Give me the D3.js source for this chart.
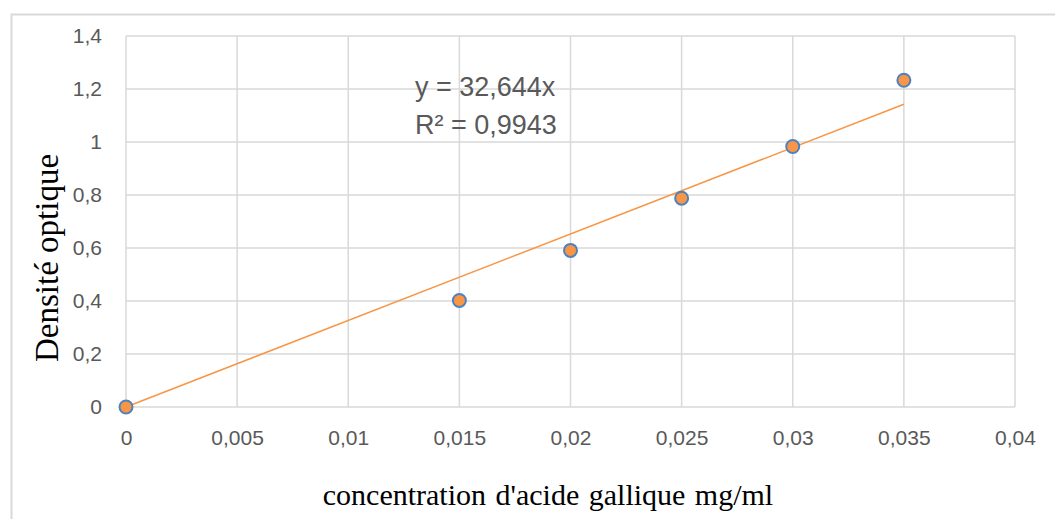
<!DOCTYPE html>
<html>
<head>
<meta charset="utf-8">
<script src="https://cdn.jsdelivr.net/npm/d3@7"></script>
<style>
  body { margin: 0; background: #fff; }
  .tick text { font-family: "Liberation Sans", Arial, sans-serif; font-size: 21px; fill: #595959; }
</style>
</head>
<body>
<div id="chart"></div>
<script>
// data
var concentrations = [0, 0.015, 0.02, 0.025, 0.03, 0.035];
var densities = [0, 0.402, 0.591, 0.788, 0.983, 1.233];
var slope = 32.644;
var r2Label = "R² = 0,9943";
var eqLabel = "y = 32,644x";
var xTicks = [0, 0.005, 0.01, 0.015, 0.02, 0.025, 0.03, 0.035, 0.04];
var yTicks = [0, 0.2, 0.4, 0.6, 0.8, 1, 1.2, 1.4];

var W = 1055, H = 519;
var margin = { left: 126, right: 40, top: 36, bottom: 112 };

var svg = d3.select("#chart").append("svg")
    .attr("width", W)
    .attr("height", H);

// outer chart frame
svg.append("rect")
    .attr("x", 11.5).attr("y", 14.5)
    .attr("width", W + 10).attr("height", H + 10)
    .attr("fill", "none")
    .attr("stroke", "#d9d9d9")
    .attr("stroke-width", 2);

var x = d3.scaleLinear().domain([0, 0.04]).range([margin.left, W - margin.right]);
var y = d3.scaleLinear().domain([0, 1.4]).range([H - margin.bottom, margin.top]);

var fmt = function(d) { return String(+d.toFixed(3)).replace(".", ","); };

// gridlines
svg.append("g")
    .selectAll("line.v").data(xTicks).enter().append("line")
    .attr("x1", function(d) { return x(d); }).attr("x2", function(d) { return x(d); })
    .attr("y1", y(0)).attr("y2", y(1.4))
    .attr("stroke", "#d9d9d9").attr("stroke-width", 1.5);
svg.append("g")
    .selectAll("line.h").data(yTicks).enter().append("line")
    .attr("x1", x(0)).attr("x2", x(0.04))
    .attr("y1", function(d) { return y(d); }).attr("y2", function(d) { return y(d); })
    .attr("stroke", "#d9d9d9").attr("stroke-width", 1.5);

// axes (labels only, Excel style)
var xAxis = svg.append("g")
    .attr("transform", "translate(0," + y(0) + ")")
    .call(d3.axisBottom(x).tickValues(xTicks).tickFormat(fmt).tickSize(0).tickPadding(23));
xAxis.select(".domain").remove();

var yAxis = svg.append("g")
    .attr("transform", "translate(" + x(0) + ",0)")
    .call(d3.axisLeft(y).tickValues(yTicks).tickFormat(fmt).tickSize(0).tickPadding(24));
yAxis.select(".domain").remove();

// trendline
svg.append("line")
    .attr("x1", x(0)).attr("y1", y(0))
    .attr("x2", x(0.035)).attr("y2", y(slope * 0.035))
    .attr("stroke", "#f79646").attr("stroke-width", 1.5);

// points
svg.append("g")
    .selectAll("circle").data(concentrations).enter().append("circle")
    .attr("cx", function(d) { return x(d); })
    .attr("cy", function(d, i) { return y(densities[i]); })
    .attr("r", 6.5)
    .attr("fill", "#f79646")
    .attr("stroke", "#4f81bd")
    .attr("stroke-width", 2);

// equation
var eq = svg.append("g")
    .style("font-family", "'Liberation Sans', Arial, sans-serif")
    .style("font-size", "27px")
    .style("fill", "#595959");
eq.append("text").attr("x", 415).attr("y", 96).text(eqLabel);
eq.append("text").attr("x", 415).attr("y", 134).text(r2Label);

// axis titles
svg.append("text")
    .attr("x", 548).attr("y", 505)
    .attr("text-anchor", "middle")
    .style("font-family", "'Liberation Serif', 'Times New Roman', serif")
    .style("font-size", "30px")
    .style("word-spacing", "2px")
    .text("concentration d'acide gallique mg/ml");

svg.append("text")
    .attr("transform", "translate(58,258) rotate(-90)")
    .attr("text-anchor", "middle")
    .style("font-family", "'Liberation Serif', 'Times New Roman', serif")
    .style("font-size", "33px")
    .text("Densité optique");
</script>
</body>
</html>
